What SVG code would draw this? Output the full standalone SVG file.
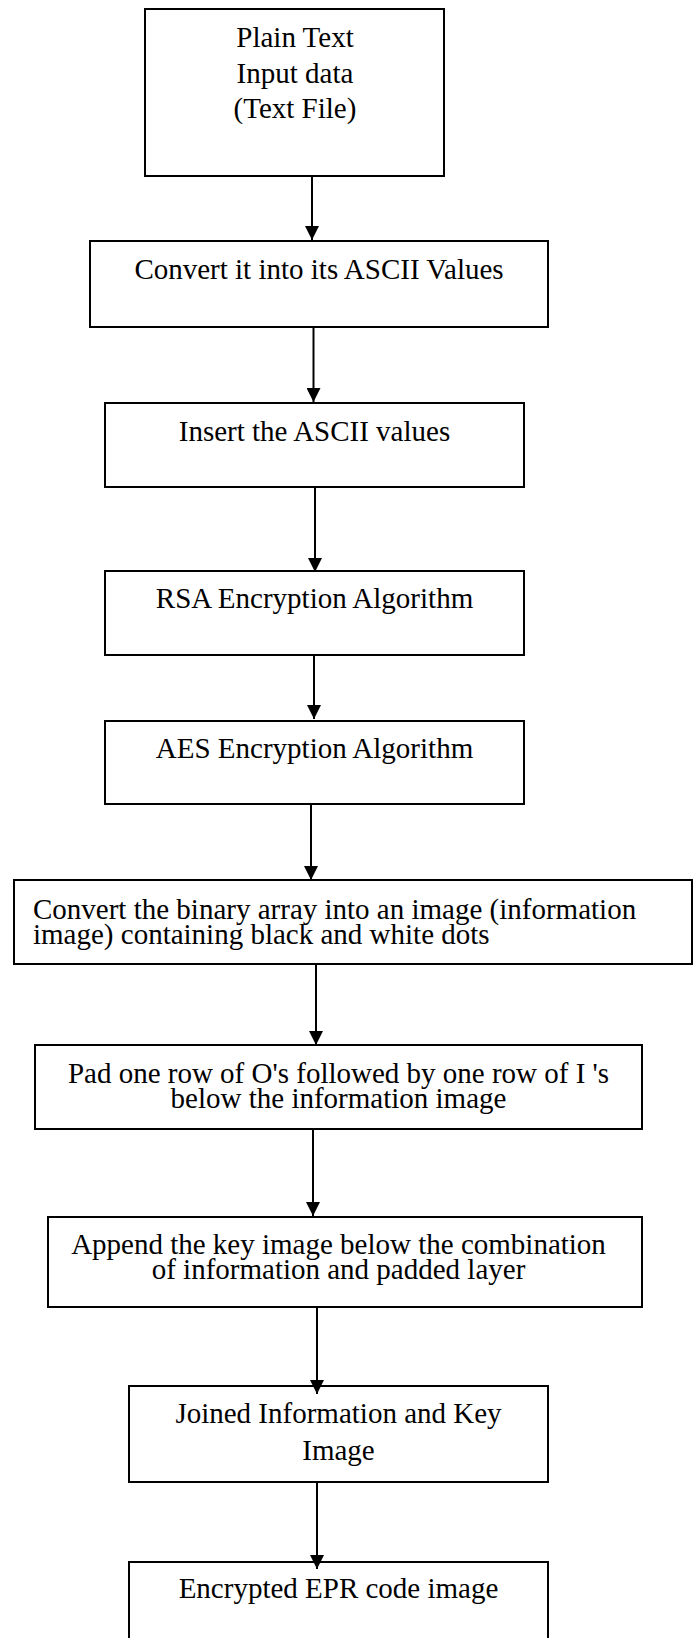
<svg xmlns="http://www.w3.org/2000/svg" width="693" height="1638" viewBox="0 0 693 1638">
<style>
.box{fill:#fff;stroke:#000;stroke-width:2}
.t{font-family:"Liberation Serif","Times New Roman",serif;font-size:29px;fill:#000}
.c{text-anchor:middle}
.conn line{stroke:#000;stroke-width:2}
</style>
<defs>
<marker id="ah" markerUnits="userSpaceOnUse" markerWidth="14" markerHeight="14" refX="14" refY="7" orient="auto" viewBox="0 0 14 14">
<path d="M0,0 L14,7 L0,14 Z" fill="#000"/>
</marker>
<clipPath id="clip6"><rect x="14" y="880" width="678" height="73"/></clipPath>
<clipPath id="clip7"><rect x="35" y="1045" width="607" height="73"/></clipPath>
</defs>
<rect width="693" height="1638" fill="#fff"/>
<g id="n1">
<rect class="box" x="145" y="9" width="299" height="167"/>
<text class="t c" x="295" y="47">Plain Text</text>
<text class="t c" x="295" y="83">Input data</text>
<text class="t c" x="295" y="118">(Text File)</text>
</g>
<g id="n2">
<rect class="box" x="90" y="241" width="458" height="86"/>
<text class="t c" x="319" y="279">Convert it into its ASCII Values</text>
</g>
<g id="n3">
<rect class="box" x="105" y="403" width="419" height="84"/>
<text class="t c" x="314.5" y="441">Insert the ASCII values</text>
</g>
<g id="n4">
<rect class="box" x="105" y="571" width="419" height="84"/>
<text class="t c" x="314.5" y="608">RSA Encryption Algorithm</text>
</g>
<g id="n5">
<rect class="box" x="105" y="721" width="419" height="83"/>
<text class="t c" x="314.5" y="758">AES Encryption Algorithm</text>
</g>
<g id="n6">
<rect class="box" x="14" y="880" width="678" height="84"/>
<g clip-path="url(#clip6)">
<text class="t" x="33" y="919">Convert the binary array into an image (information</text>
<text class="t" x="33" y="944">image) containing black and white dots</text>
</g>
</g>
<g id="n7">
<rect class="box" x="35" y="1045" width="607" height="84"/>
<g clip-path="url(#clip7)">
<text class="t c" x="338.5" y="1083">Pad one row of O's followed by one row of I 's</text>
<text class="t c" x="338.5" y="1108">below the information image</text>
</g>
</g>
<g id="n8">
<rect class="box" x="48" y="1217" width="594" height="90"/>
<text class="t c" x="338.5" y="1254">Append the key image below the combination</text>
<text class="t c" x="338.5" y="1279">of information and padded layer</text>
</g>
<g id="n9">
<rect class="box" x="129" y="1386" width="419" height="96"/>
<text class="t c" x="338.5" y="1423">Joined Information and Key</text>
<text class="t c" x="338.5" y="1460">Image</text>
</g>
<g id="n10">
<rect class="box" x="129" y="1562" width="419" height="80"/>
<text class="t c" x="338.5" y="1598">Encrypted EPR code image</text>
</g>
<g id="connectors" class="conn">
<line x1="312" y1="176" x2="312" y2="240" marker-end="url(#ah)"/>
<line x1="313.5" y1="327" x2="313.5" y2="402" marker-end="url(#ah)"/>
<line x1="315" y1="487" x2="315" y2="572" marker-end="url(#ah)"/>
<line x1="314" y1="655" x2="314" y2="719" marker-end="url(#ah)"/>
<line x1="311" y1="804" x2="311" y2="880" marker-end="url(#ah)"/>
<line x1="316" y1="964" x2="316" y2="1045" marker-end="url(#ah)"/>
<line x1="313" y1="1129" x2="313" y2="1216" marker-end="url(#ah)"/>
<line x1="317" y1="1307" x2="317" y2="1394" marker-end="url(#ah)"/>
<line x1="317" y1="1482" x2="317" y2="1569" marker-end="url(#ah)"/>
</g>
</svg>
